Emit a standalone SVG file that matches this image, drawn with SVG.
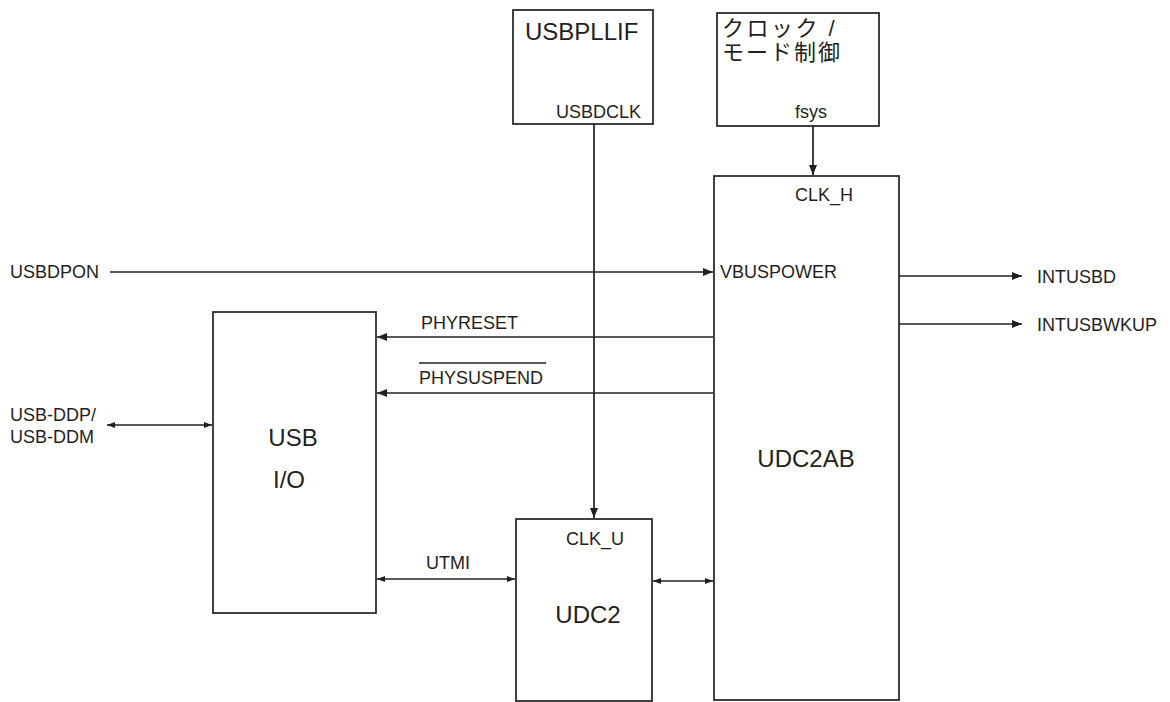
<svg xmlns="http://www.w3.org/2000/svg" width="1170" height="702" viewBox="0 0 1170 702">
<style>
.box{fill:#fff;stroke:#231f20;stroke-width:1.7}
.ln{fill:none;stroke:#231f20;stroke-width:1.7}
.s{font-family:"Liberation Sans",Arial,"Noto Sans CJK JP",sans-serif;font-size:18px;fill:#231f20}
.l{font-family:"Liberation Sans",Arial,"Noto Sans CJK JP",sans-serif;font-size:24px;fill:#231f20}
.j{font-family:"Liberation Sans","Noto Sans CJK JP",sans-serif;font-size:22px;fill:#231f20}
</style>
<defs>
<marker id="ah" markerUnits="userSpaceOnUse" markerWidth="12" markerHeight="10" refX="10" refY="4" orient="auto-start-reverse">
<path d="M0,0 L10,4 L0,8 z" fill="#231f20"/>
</marker>
<marker id="ahs" markerUnits="userSpaceOnUse" markerWidth="10" markerHeight="8" refX="8" refY="3" orient="auto-start-reverse">
<path d="M0,0 L8,3 L0,6 z" fill="#231f20"/>
</marker>
</defs>
<rect width="1170" height="702" fill="#fff"/>
<g id="usbpllif">
<rect class="box" x="513" y="10" width="140" height="114"/>
<text class="l" x="525" y="40">USBPLLIF</text>
<text class="s" x="556" y="118" font-size="17.5">USBDCLK</text>
</g>
<g id="clock">
<rect class="box" x="717" y="13" width="162" height="113"/>
<text class="j" x="722" y="36" letter-spacing="2.5">クロック /</text>
<text class="j" x="722" y="60" letter-spacing="2">モード制御</text>
<text class="s" x="811" y="118" text-anchor="middle">fsys</text>
</g>
<g id="udc2ab">
<rect class="box" x="714" y="176" width="185" height="524"/>
<text class="s" x="795" y="201">CLK_H</text>
<text class="s" x="720" y="278">VBUSPOWER</text>
<text class="l" x="806" y="467" text-anchor="middle">UDC2AB</text>
</g>
<g id="usbio">
<rect class="box" x="213" y="312" width="163" height="301"/>
<text class="l" x="293" y="446" text-anchor="middle">USB</text>
<text class="l" x="289" y="488" text-anchor="middle">I/O</text>
</g>
<g id="udc2">
<rect class="box" x="516" y="519" width="136" height="182"/>
<text class="s" x="566" y="545">CLK_U</text>
<text class="l" x="588" y="623" text-anchor="middle">UDC2</text>
</g>
<g id="connectors">
<path class="ln" d="M594,124 V518" marker-end="url(#ah)"/>
<path class="ln" d="M813,126 V175" marker-end="url(#ah)"/>
<path class="ln" d="M110,272 H713" marker-end="url(#ah)"/>
<path class="ln" d="M713,337 H377" marker-end="url(#ah)"/>
<path class="ln" d="M713,393 H377" marker-end="url(#ah)"/>
<path class="ln" d="M899,276 H1022" marker-end="url(#ah)"/>
<path class="ln" d="M899,324 H1022" marker-end="url(#ah)"/>
<path class="ln" d="M107,425 H212" marker-start="url(#ahs)" marker-end="url(#ahs)"/>
<path class="ln" d="M377,579 H515" marker-start="url(#ahs)" marker-end="url(#ahs)"/>
<path class="ln" d="M653,581 H713" marker-start="url(#ahs)" marker-end="url(#ahs)"/>
</g>
<g id="labels">
<text class="s" x="10" y="278">USBDPON</text>
<text class="s" x="10" y="421">USB-DDP/</text>
<text class="s" x="10" y="443">USB-DDM</text>
<text class="s" x="421" y="329">PHYRESET</text>
<text class="s" x="419" y="384">PHYSUSPEND</text>
<path class="ln" d="M419,363 H546" stroke-width="1.3"/>
<text class="s" x="1037" y="283">INTUSBD</text>
<text class="s" x="1037" y="331">INTUSBWKUP</text>
<text class="s" x="448" y="569" text-anchor="middle">UTMI</text>
</g>
</svg>
